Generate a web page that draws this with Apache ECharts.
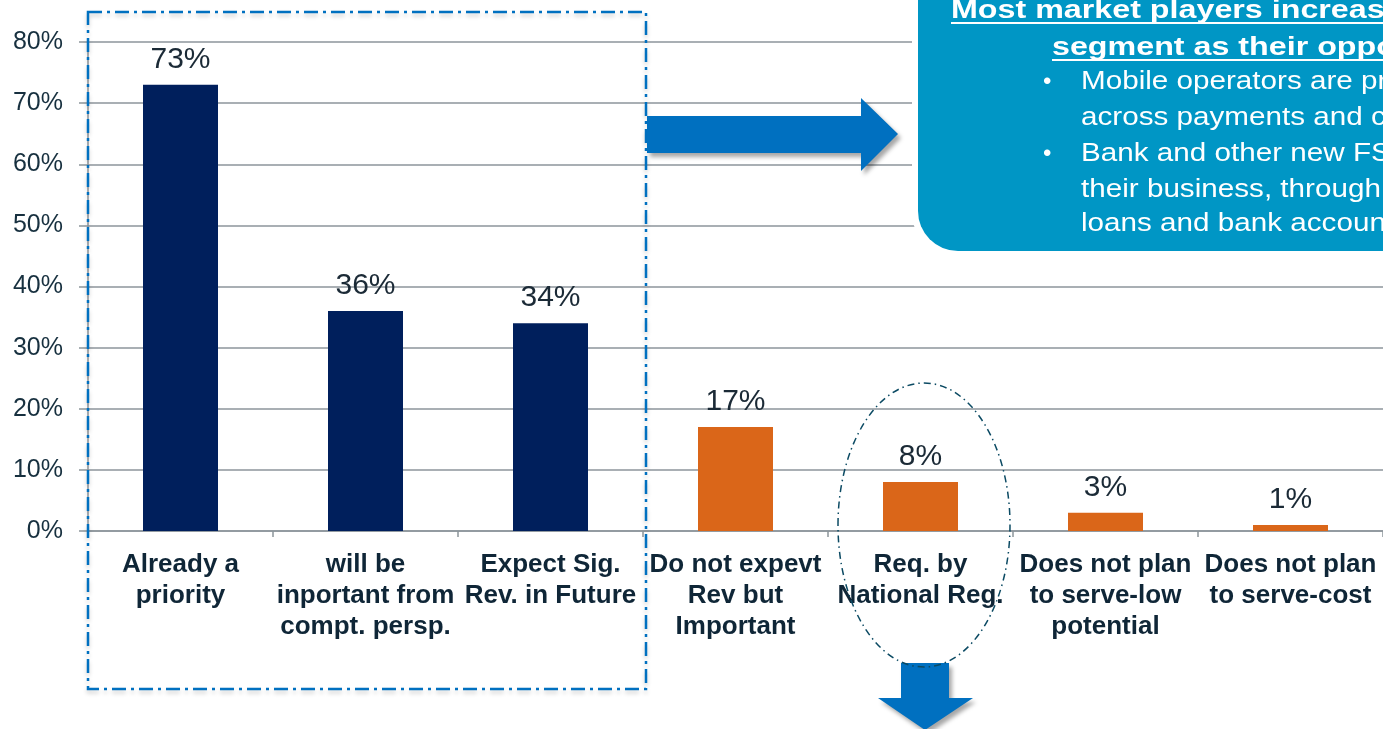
<!DOCTYPE html>
<html>
<head>
<meta charset="utf-8">
<title>Priority of low-income segment</title>
<script src="https://cdn.jsdelivr.net/npm/echarts@6/dist/echarts.min.js"></script>
<style>
  html, body { margin: 0; padding: 0; background: #fff; }
  #chart { width: 1383px; height: 729px; }
</style>
</head>
<body>
<div id="chart"></div>
<script>
// data
var categories = [
  'Already a\npriority',
  'will be\ninportant from\ncompt. persp.',
  'Expect Sig.\nRev. in Future',
  'Do not expevt\nRev but\nImportant',
  'Req. by\nNational Reg.',
  'Does not plan\nto serve-low\npotential',
  'Does not plan\nto serve-cost'
];
var values = [73, 36, 34, 17, 8, 3, 1];
var groups = ['now', 'now', 'now', 'later', 'later', 'later', 'later'];
var yTicks = [0, 10, 20, 30, 40, 50, 60, 70, 80];

var calloutTitle = ['Most market players increasingly', 'segment as their opportunity'];
var calloutLines = [
  'Mobile operators are present',
  'across payments and credit',
  'Bank and other new FSPs',
  'their business, through',
  'loans and bank accounts'
];

var _colors = { now: '#001F5C', later: '#DA6619' },
  _font = '"Liberation Sans", Arial, sans-serif',
  _grid = '#8C959B',
  _ink = '#0F2637';

function buildGraphic() {
  var items = [];
  // dash-dot frame around the first three bars
  items.push({
    type: 'rect', z: 100,
    shape: { x: 88, y: 12, width: 558, height: 677 },
    style: {
      fill: null, stroke: '#0070C0', lineWidth: 2.5, lineDash: [14, 5, 3, 5],
      shadowBlur: 4, shadowOffsetY: 3, shadowColor: 'rgba(0,0,0,0.2)'
    }
  });
  // right arrow
  items.push({
    type: 'polygon', z: 100,
    shape: { points: [[647, 116], [861, 116], [861, 98], [898, 134], [861, 171], [861, 153], [647, 153]] },
    style: { fill: '#0070C0', shadowBlur: 4, shadowOffsetX: 3, shadowOffsetY: 4, shadowColor: 'rgba(0,0,0,0.35)' }
  });
  // down arrow
  items.push({
    type: 'polygon', z: 100,
    shape: { points: [[901, 663], [949, 663], [949, 698], [973, 698], [925, 730], [878, 698], [901, 698]] },
    style: { fill: '#0070C0', shadowBlur: 4, shadowOffsetX: 3, shadowOffsetY: 4, shadowColor: 'rgba(0,0,0,0.35)' }
  });
  // ellipse round the regulation bar
  items.push({
    type: 'ellipse', z: 100,
    shape: { cx: 924, cy: 525, rx: 86, ry: 142 },
    style: { fill: null, stroke: '#0B4A63', lineWidth: 1.5, lineDash: [7, 4, 1.5, 4] }
  });
  // callout box
  items.push({
    type: 'rect', z: 100,
    shape: { x: 912, y: -40, width: 520, height: 297, r: 44 },
    style: { fill: '#fff' }
  });
  items.push({
    type: 'rect', z: 101,
    shape: { x: 918, y: -40, width: 520, height: 291, r: 40 },
    style: { fill: '#0096C5' }
  });
  var titleX = [951, 1052], titleY = [11, 48];
  for (var i = 0; i < calloutTitle.length; i++) {
    items.push({
      type: 'text', z: 102, x: titleX[i], y: titleY[i], scaleX: 1.24,
      style: { text: calloutTitle[i], fill: '#fff', font: 'bold 26px ' + _font, verticalAlign: 'middle' }
    });
    items.push({
      type: 'line', z: 102,
      shape: { x1: titleX[i], y1: titleY[i] + 12, x2: 1400, y2: titleY[i] + 12 },
      style: { stroke: '#fff', lineWidth: 2 }
    });
  }
  var lineY = [82, 118, 154, 190, 224];
  for (var j = 0; j < calloutLines.length; j++) {
    items.push({
      type: 'text', z: 102, x: 1081, y: lineY[j], scaleX: 1.14,
      style: { text: calloutLines[j], fill: '#fff', font: '26px ' + _font, verticalAlign: 'middle' }
    });
    if (j === 0 || j === 2) {
      items.push({
        type: 'text', z: 102, x: 1043, y: lineY[j],
        style: { text: '•', fill: '#fff', font: '24px ' + _font, verticalAlign: 'middle' }
      });
    }
  }
  return items;
}

function initChart(dom) {
  var myChart = echarts.init(dom, null, { renderer: 'canvas' }),
    option = {
      animation: false,
      backgroundColor: '#fff',
      grid: { left: 88, top: 42, width: 1299, height: 489 },
      xAxis: {
        type: 'category',
        data: categories,
        axisLine: { lineStyle: { color: _grid, width: 1.5 } },
        axisTick: { show: true, length: 6, lineStyle: { color: _grid, width: 1.5 } },
        axisLabel: {
          interval: 0, margin: 18, color: _ink,
          fontFamily: _font, fontWeight: 'bold', fontSize: 26, lineHeight: 31
        }
      },
      yAxis: {
        type: 'value',
        min: yTicks[0],
        max: yTicks[yTicks.length - 1],
        interval: yTicks[1] - yTicks[0],
        axisLine: { show: true, lineStyle: { color: _grid, width: 1.5 } },
        axisTick: { show: true, length: 9, lineStyle: { color: _grid, width: 1.5 } },
        splitLine: { lineStyle: { color: _grid, width: 1.5 } },
        axisLabel: {
          formatter: '{value}%', margin: 25, color: '#17303F',
          fontFamily: _font, fontSize: 25, padding: [4, 0, 0, 0]
        }
      },
      series: [{
        type: 'bar',
        barWidth: 75,
        data: values.map(function (v, i) {
          return { value: v, itemStyle: { color: _colors[groups[i]] } };
        }),
        label: {
          show: true, position: 'top', distance: 10,
          formatter: '{c}%', color: '#1B2A36', fontFamily: _font, fontSize: 30
        }
      }],
      graphic: buildGraphic()
    };
  myChart.setOption(option, true);
  window.addEventListener('resize', function () {
    myChart.resize();
  });
}

initChart(document.getElementById('chart'));
</script>
</body>
</html>
